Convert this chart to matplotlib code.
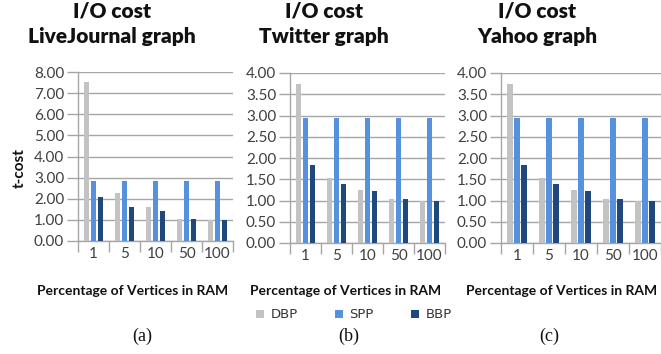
import numpy as np
import matplotlib
matplotlib.use("Agg")
import matplotlib.pyplot as plt

# --- Data ---
categories = ["1", "5", "10", "50", "100"]
series_names = ["DBP", "SPP", "BBP"]

lj_dbp = [7.55, 2.26, 1.60, 1.05, 1.00]
lj_spp = [2.84, 2.84, 2.84, 2.84, 2.84]
lj_bbp = [2.10, 1.62, 1.40, 1.05, 1.00]

tw_dbp = [3.73, 1.52, 1.24, 1.03, 1.00]
tw_spp = [2.93, 2.93, 2.93, 2.93, 2.93]
tw_bbp = [1.84, 1.38, 1.22, 1.03, 1.00]

ya_dbp = [3.73, 1.53, 1.24, 1.03, 1.00]
ya_spp = [2.93, 2.93, 2.93, 2.93, 2.93]
ya_bbp = [1.84, 1.39, 1.22, 1.03, 1.00]

colors = ["#c3c3c3", "#5591dc", "#1f497d"]
grid_col = "#a6a6a6"
text_col = "#404040"

W, H = 661, 354
fig = plt.figure(figsize=(W / 100, H / 100), dpi=100)

def box(x0, y0, x1, y1):
    # pixel box (top-left origin) -> figure fraction
    return [x0 / W, 1 - y1 / H, (x1 - x0) / W, (y1 - y0) / H]

panels = [
    # (values, ymax, ystep, axes box, title, title x, xlabel x, caption, caption x)
    ((lj_dbp, lj_spp, lj_bbp), 8, 1, box(78, 72, 233, 241), "LiveJournal graph", 112, 133, "(a)", 142),
    ((tw_dbp, tw_spp, tw_bbp), 4, 0.5, box(290, 73, 445, 243), "Twitter graph", 324, 346, "(b)", 349),
    ((ya_dbp, ya_spp, ya_bbp), 4, 0.5, box(501, 73, 661, 243), "Yahoo graph", 537, 562, "(c)", 549),
]

x = np.arange(len(categories))
bw = 0.19
pitch = 0.225
handles = None

for vals, ymax, ystep, rect, title, tx, lx, cap, cx in panels:
    ax = fig.add_axes(rect)
    bars = []
    for k, v in enumerate(vals):
        b = ax.bar(x + 0.5 + (k - 1) * pitch, v, width=bw, color=colors[k],
                   zorder=3, label=series_names[k])
        bars.append(b)
    handles = bars
    ax.set_xlim(0, len(categories))
    ax.set_ylim(0, ymax)
    yt = np.arange(0, ymax + ystep / 2, ystep)
    ax.set_yticks(yt)
    ax.set_yticklabels([f"{v:.2f}" for v in yt], fontsize=11, color=text_col, family="Lato")
    ax.set_xticks(np.arange(len(categories) + 1), minor=True)
    ax.set_xticks(x + 0.5)
    ax.set_xticklabels(categories, fontsize=11, color=text_col, family="Lato")
    ax.tick_params(axis="x", which="major", length=0, pad=4)
    ax.tick_params(axis="x", which="minor", length=8, color=grid_col, width=1)
    ax.tick_params(axis="y", length=8, color=grid_col, width=1, pad=2)
    ax.grid(axis="y", color=grid_col, linewidth=1, zorder=0)
    for s in ["top", "right"]:
        ax.spines[s].set_visible(False)
    for s in ["left", "bottom"]:
        ax.spines[s].set_color(grid_col)
        ax.spines[s].set_linewidth(1)
    ax.set_axisbelow(True)

    fig.text(tx / W, 1 - 18 / H, "I/O cost", ha="center", va="baseline",
             fontsize=15, fontweight="heavy", family="Lato", color="#111111")
    fig.text(tx / W, 1 - 43 / H, title, ha="center", va="baseline",
             fontsize=15, fontweight="heavy", family="Lato", color="#111111")
    fig.text(lx / W, 1 - 291 / H, "Percentage of Vertices in RAM", ha="center", va="center",
             fontsize=10, fontweight="bold", family="Lato", color="#111111")
    fig.text(cx / W, 1 - 336 / H, cap, ha="center", va="center",
             fontsize=13, family="Liberation Serif", color="#111111")

fig.text(20 / W, 1 - 168 / H, "t-cost", rotation=90, ha="center", va="center",
         fontsize=11, fontweight="bold", family="Lato", color="#111111")

fig.legend(handles, series_names, loc="center", bbox_to_anchor=(354 / W, 1 - 315 / H),
           ncol=3, frameon=False, handlelength=0.6, handleheight=0.6,
           handletextpad=0.5, columnspacing=2.8,
           prop={"family": "DejaVu Sans", "size": 9.5}, labelcolor="#333333")

fig.savefig("out.png", dpi=100)
